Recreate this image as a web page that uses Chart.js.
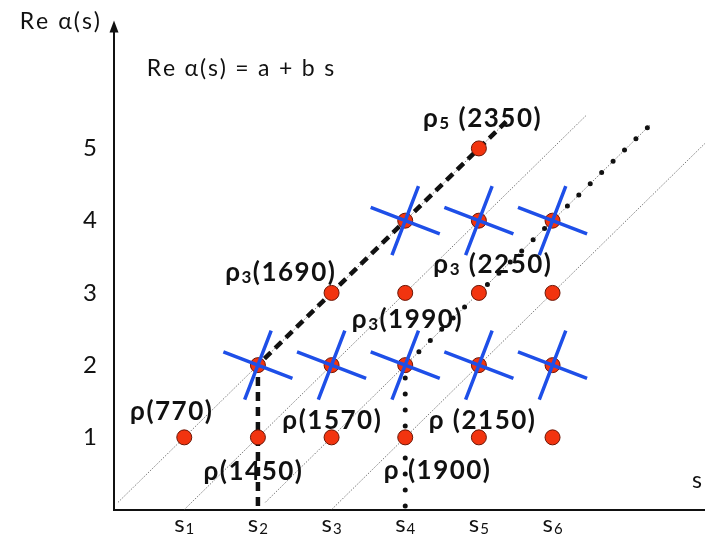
<!DOCTYPE html>
<html>
<head>
<meta charset="utf-8">
<script src="https://cdn.jsdelivr.net/npm/chart.js@4.4.1/dist/chart.umd.min.js"></script>
<style>
  html, body { margin: 0; padding: 0; background: #fff; }
  canvas { display: block; }
</style>
</head>
<body>
<canvas id="reggeChart" width="705" height="541"></canvas>
<script>
// --- axis ticks ---
const sTicks = [1, 2, 3, 4, 5, 6];
const sTickLabels = ['s_1', 's_2', 's_3', 's_4', 's_5', 's_6'];
const jTicks = [1, 2, 3, 4, 5];
const jTickLabels = ['1', '2', '3', '4', '5'];

// --- resonances (s index, Re alpha) ---
const stateS = [1, 2, 3, 4, 5, 6, 2, 3, 4, 5, 6, 3, 4, 5, 6, 4, 5, 6, 5];
const stateJ = [1, 1, 1, 1, 1, 1, 2, 2, 2, 2, 2, 3, 3, 3, 3, 4, 4, 4, 5];

// states crossed out
const crossS = [2, 3, 4, 5, 6, 4, 5, 6];
const crossJ = [2, 2, 2, 2, 2, 4, 4, 4];

// thin guide lines (slope 1)
const guideFromS = [0.1, 1.0, 2.1, 3.0];
const guideFromJ = [0.1, 0.0, 0.1, 0.0];
const guideToS = [5.37, 6.46, 7.33, 8.07];
const guideToJ = [5.37, 5.46, 5.33, 5.07];

// leading trajectories
const dashedS = [2, 2, 5.37];
const dashedJ = [0.05, 2, 5.37];
const dottedS = [4, 4, 7.33];
const dottedJ = [0.05, 2, 5.33];

// particle names, anchored in data units (text centre)
const particleNames = ['ρ(770)', 'ρ(1450)', 'ρ(1570)', 'ρ (1900)', 'ρ (2150)', 'ρ_3(1690)', 'ρ_3(1990)', 'ρ_3 (2250)', 'ρ_5 (2350)'];
const nameS = [0.82, 1.93, 3.00, 4.43, 5.04, 2.30, 4.02, 5.18, 5.04];
const nameJ = [1.37, 0.54, 1.25, 0.55, 1.25, 3.29, 2.65, 3.40, 5.43];

const formulaText = 'Re α(s) = a + b s';
const formulaS = 0.49;
const formulaJ = 6.12;
const yTitle = 'Re α(s)';
const xTitle = 's';

const FONT = 'Lato, "Open Sans", sans-serif';
const RED = '#f2340f';
const BLUE = '#1e4fe8';

// text with '_x' meaning subscript x, drawn glyph by glyph with some tracking
function drawRich(ctx, str, x, yMid, size, weight, align, track) {
    const subSize = Math.round(size * 0.64);
    const parts = [];
    for (let i = 0; i < str.length; i++) {
        if (str[i] === '_' && i + 1 < str.length) {
            parts.push({ t: str[i + 1], sub: true });
            i++;
        } else {
            parts.push({ t: str[i], sub: false });
        }
    }
    const mainFont = `${weight} ${size}px ${FONT}`;
    const subFont = `${weight} ${subSize}px ${FONT}`;
    let w = 0;
    parts.forEach(p => {
        ctx.font = p.sub ? subFont : mainFont;
        p.w = ctx.measureText(p.t).width + track;
        w += p.w;
    });
    w -= track;
    let cx = align === 'center' ? x - w / 2 : (align === 'right' ? x - w : x);
    const base = yMid + size * 0.36;
    ctx.textAlign = 'left';
    ctx.textBaseline = 'alphabetic';
    parts.forEach(p => {
        ctx.font = p.sub ? subFont : mainFont;
        ctx.fillText(p.t, cx, p.sub ? base + size * 0.08 : base);
        cx += p.w;
    });
}

const textPlugin = {
    id: 'reggeText',
    afterDraw(chart) {
        const ctx = chart.ctx;
        const area = chart.chartArea;
        const xs = chart.scales.x;
        const ys = chart.scales.y;
        ctx.save();
        ctx.fillStyle = '#111';

        // arrow head on the vertical axis
        ctx.beginPath();
        ctx.moveTo(area.left, area.top - 11);
        ctx.lineTo(area.left - 4.5, area.top + 1);
        ctx.lineTo(area.left + 4.5, area.top + 1);
        ctx.closePath();
        ctx.fill();

        drawRich(ctx, yTitle, area.left - 14, 21, 23, 'normal', 'right', 2);
        drawRich(ctx, xTitle, area.right - 8, area.bottom - 30, 23, 'normal', 'center', 0);

        sTicks.forEach((v, i) => {
            drawRich(ctx, sTickLabels[i], xs.getPixelForValue(v), area.bottom + 14, 24, 'normal', 'center', 1);
        });

        drawRich(ctx, formulaText, xs.getPixelForValue(formulaS), ys.getPixelForValue(formulaJ), 23, 'normal', 'left', 1.8);

        particleNames.forEach((name, i) => {
            drawRich(ctx, name, xs.getPixelForValue(nameS[i]), ys.getPixelForValue(nameJ[i]), 26, 'bold', 'center', 1.5);
        });
        ctx.restore();
    }
};

const toPoints = (sArr, jArr) => sArr.map((s, i) => ({ x: s, y: jArr[i] }));

const datasets = [];

guideFromS.forEach((s, i) => {
    datasets.push({
        data: [{ x: s, y: guideFromJ[i] }, { x: guideToS[i], y: guideToJ[i] }],
        showLine: true,
        borderColor: '#7a7a7a',
        borderWidth: 1,
        borderDash: [1.5, 1.5],
        pointRadius: 0,
        order: 5
    });
});

datasets.push({
    data: toPoints(dashedS, dashedJ),
    showLine: true,
    borderColor: '#111',
    borderWidth: 4.5,
    borderDash: [9, 6],
    pointRadius: 0,
    order: 4
});

datasets.push({
    data: toPoints(dottedS, dottedJ),
    showLine: true,
    borderColor: '#111',
    borderWidth: 5,
    borderDash: [0, 16],
    borderCapStyle: 'round',
    pointRadius: 0,
    order: 4
});

datasets.push({
    data: toPoints(stateS, stateJ),
    showLine: false,
    pointStyle: 'circle',
    pointRadius: 7.5,
    pointBackgroundColor: RED,
    pointBorderColor: '#6a1505',
    pointBorderWidth: 1,
    order: 3
});

datasets.push({
    data: toPoints(crossS, crossJ),
    showLine: false,
    pointStyle: 'cross',
    pointRotation: 21,
    pointRadius: 37,
    pointBorderColor: BLUE,
    pointBorderWidth: 3.5,
    order: 2
});

new Chart(document.getElementById('reggeChart'), {
    type: 'scatter',
    data: { datasets: datasets },
    options: {
        responsive: false,
        animation: false,
        events: [],
        devicePixelRatio: 1,
        layout: { autoPadding: false, padding: { top: 28, bottom: 28, left: 0, right: 0 } },
        plugins: {
            legend: { display: false },
            tooltip: { enabled: false }
        },
        scales: {
            x: {
                type: 'linear',
                min: 0.046,
                max: 8.07,
                grid: { display: false, drawTicks: false },
                ticks: { display: false },
                border: { display: true, color: '#111', width: 2 }
            },
            y: {
                type: 'linear',
                min: 0,
                max: 6.62,
                grid: { display: false, drawTicks: false },
                border: { display: true, color: '#111', width: 2 },
                afterBuildTicks: scale => { scale.ticks = jTicks.map(v => ({ value: v })); },
                afterFit: scale => { scale.width = 114; },
                ticks: {
                    padding: 17,
                    color: '#111',
                    font: { family: FONT, size: 24 },
                    callback: value => jTickLabels[jTicks.indexOf(value)]
                }
            }
        }
    },
    plugins: [textPlugin]
});
</script>
</body>
</html>
